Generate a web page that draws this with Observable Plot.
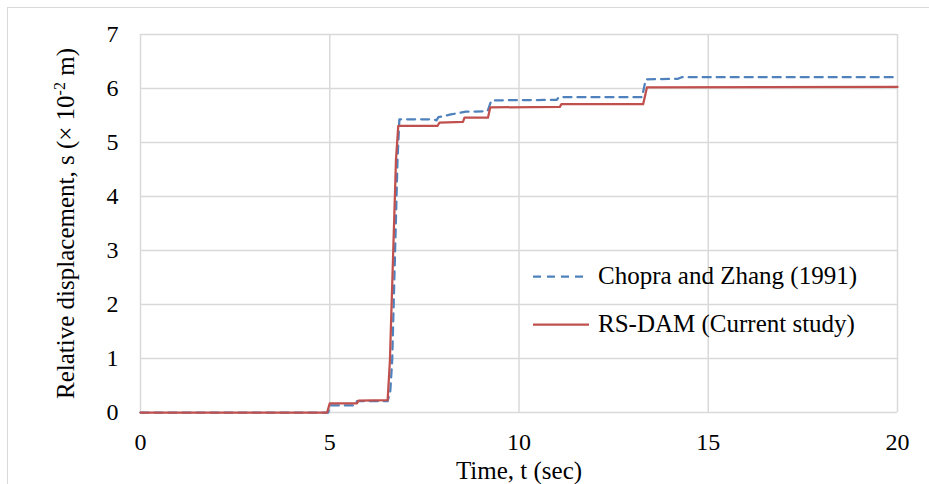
<!DOCTYPE html>
<html>
<head>
<meta charset="utf-8">
<script src="https://cdn.jsdelivr.net/npm/d3@7"></script>
<script src="https://cdn.jsdelivr.net/npm/@observablehq/plot@0.6"></script>
<style>
  html, body { margin: 0; padding: 0; background: #fff; }
  #wrap { position: relative; width: 929px; height: 484px; overflow: hidden; font-family: "Liberation Serif", "Times New Roman", serif; }
  #border { position: absolute; left: 7px; top: 7px; width: 2000px; height: 2000px; border-left: 1.5px solid #d9d9d9; border-top: 1.5px solid #d9d9d9; pointer-events: none; }
  #legend { position: absolute; left: 533px; top: 258px; font-size: 25px; color: #000; }
  .item { position: absolute; left: 0; white-space: nowrap; display: flex; align-items: center; }
  .item svg { margin-right: 9px; }
  #chart svg text { font-family: "Liberation Serif", "Times New Roman", serif; font-variant: normal; }
</style>
</head>
<body>
<div id="wrap">
  <div id="border"></div>
  <div id="chart"></div>
  <div id="legend"></div>
</div>
<script>
// ---- data ----
const xTicks = [0, 5, 10, 15, 20];
const yTicks = [0, 1, 2, 3, 4, 5, 6, 7];
const xLabel = "Time, t (sec)";
const yLabel = "Relative displacement, s (× 10-2 m)";
const seriesNames = ["Chopra and Zhang (1991)", "RS-DAM (Current study)"];
const seriesColors = ["#4F81BD", "#C0504D"];

const chopraT = [0, 4.96, 5.0, 5.68, 5.72, 6.53, 6.60, 6.65, 6.72, 6.79, 6.84, 7.74, 7.82, 7.87, 8.2, 8.6, 9.17, 9.27, 11.0, 11.05, 13.25, 13.35, 14.2, 14.3, 20];
const chopraS = [0, 0, 0.13, 0.13, 0.21, 0.21, 0.40, 0.97, 2.82, 4.68, 5.43, 5.43, 5.41, 5.47, 5.52, 5.57, 5.58, 5.78, 5.79, 5.84, 5.84, 6.17, 6.18, 6.21, 6.21];

const rsT = [0, 4.93, 5.0, 5.72, 5.76, 6.53, 6.59, 6.67, 6.75, 6.81, 7.85, 7.9, 8.52, 8.56, 9.18, 9.24, 11.08, 11.12, 13.28, 13.38, 20];
const rsS = [0, 0, 0.17, 0.17, 0.22, 0.23, 0.97, 2.82, 4.68, 5.31, 5.31, 5.37, 5.38, 5.46, 5.46, 5.65, 5.66, 5.71, 5.71, 6.02, 6.03];

const chopra = chopraT.map((t, i) => ({t, s: chopraS[i]}));
const rs = rsT.map((t, i) => ({t, s: rsS[i]}));

const font = '"Liberation Serif", "Times New Roman", serif';

const chart = Plot.plot({
  width: 929,
  height: 484,
  marginLeft: 140,
  marginRight: 32,
  marginTop: 34,
  marginBottom: 72,
  style: { fontFamily: font, color: "#000", background: "transparent", overflow: "visible" },
  x: { domain: [0, 20] },
  y: { domain: [0, 7] },
  marks: [
    Plot.ruleX(xTicks, { stroke: "#d9d9d9", strokeWidth: 1.5 }),
    Plot.ruleY(yTicks, { stroke: "#d9d9d9", strokeWidth: 1.5 }),
    Plot.axisX({ ticks: xTicks, tickSize: 0, tickPadding: 20, fontSize: 24, fontFamily: font, label: null, fill: "#000", tickFormat: d => String(d) }),
    Plot.axisY({ ticks: yTicks, tickSize: 0, tickPadding: 22, fontSize: 24, fontFamily: font, label: null, fill: "#000", tickFormat: d => String(d) }),
    Plot.line(chopra, { x: "t", y: "s", stroke: seriesColors[0], strokeWidth: 2.25, strokeDasharray: "8,6" }),
    Plot.line(rs, { x: "t", y: "s", stroke: seriesColors[1], strokeWidth: 2.25 }),
    Plot.text([xLabel], { frameAnchor: "bottom", lineAnchor: "top", dy: 49, fontSize: 25, fontFamily: font, fill: "#000" }),
    Plot.text([yLabel], { frameAnchor: "left", textAnchor: "middle", rotate: -90, dx: -75, fontSize: 25, fontFamily: font, fill: "#000" })
  ]
});
document.getElementById("chart").appendChild(chart);

// superscript in y label
d3.select(chart).selectAll("text").each(function() {
  if (this.textContent === yLabel) {
    const el = d3.select(this);
    el.text(null);
    el.append("tspan").text("Relative displacement, s (× 10");
    el.append("tspan").attr("font-size", 16).attr("dy", -9).text("-2");
    el.append("tspan").attr("dy", 9).text(" m)");
  }
});

// legend
const legend = d3.select("#legend");
const tops = [0, 48];
seriesNames.forEach((name, i) => {
  const item = legend.append("div").attr("class", "item").style("top", tops[i] + "px");
  const svg = item.append("svg").attr("width", 56).attr("height", 36);
  svg.append("line").attr("x1", 0).attr("x2", i === 0 ? 52 : 56).attr("y1", 18.5).attr("y2", 18.5)
    .attr("stroke", seriesColors[i]).attr("stroke-width", 2.25)
    .attr("stroke-dasharray", i === 0 ? "8,6" : null);
  item.append("span").text(name);
});
</script>
</body>
</html>
